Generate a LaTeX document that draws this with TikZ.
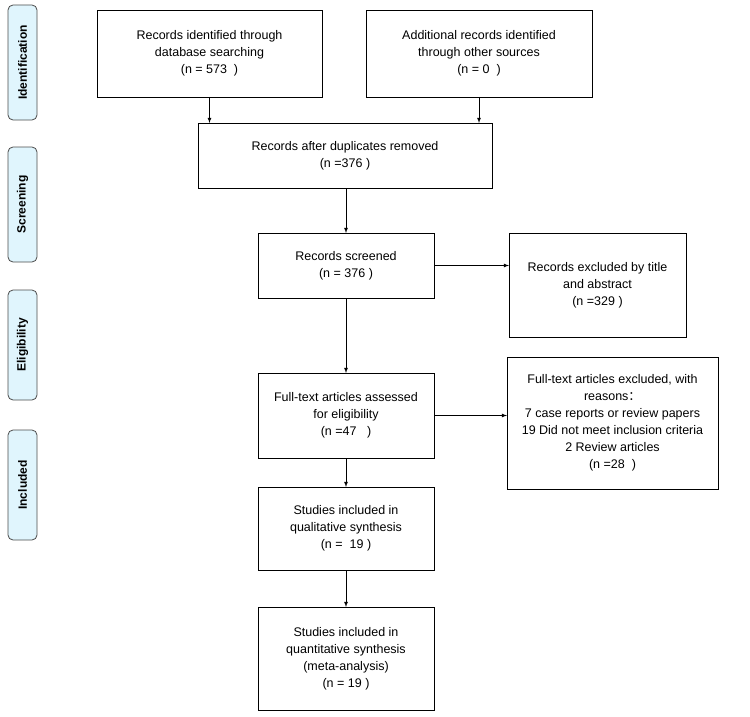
\documentclass[tikz,border=0pt]{standalone}
\usepackage{fontspec}
\setmainfont{Liberation Sans}
\newfontfamily\cjk{Noto Sans CJK SC}
\begin{document}
\begin{tikzpicture}[x=1pt,y=-1pt,
  box/.style={draw,thick,fill=white,align=center,font=\fontsize{12.5}{17}\selectfont,inner sep=2pt},
  side/.style={draw=black!70,fill=cyan!12,rounded corners=5pt,thick},
  sidet/.style={rotate=90,font=\bfseries\fontsize{12}{14}\selectfont},
  arr/.style={-latex,thick}]
\useasboundingbox (0,0) rectangle (750,717);
\foreach \n/\a/\b/\t in {s1/5/120/Identification,s2/147/262/Screening,s3/290/400/Eligibility,s4/430/540/Included}{
  \draw[side] (8,\a) rectangle (37,\b);
  \node[sidet] (\n) at (22.5,{(\a+\b)/2}) {\t};
}
\newcommand{\bx}[6]{\draw[thick] (#2,#3) rectangle (#4,#5);
  \node[box,draw=none,fill=none] (#1) at ({(#2+#4)/2},{(#3+#5)/2}) {#6};
  \coordinate (#1n) at ({(#2+#4)/2},#3); \coordinate (#1s) at ({(#2+#4)/2},#5);
  \coordinate (#1w) at (#2,{(#3+#5)/2}); \coordinate (#1e) at (#4,{(#3+#5)/2});}
\bx{a}{97}{10}{322}{97}{Records identified through\\database searching\\(n = 573 \ )}
\bx{b}{366}{10}{592}{97}{Additional records identified\\through other sources\\(n = 0 \ )}
\bx{c}{198}{123}{492}{188}{Records after duplicates removed\\(n =376 )}
\bx{d}{258}{233}{434}{298}{Records screened\\(n = 376 )}
\bx{e}{509}{233}{686}{337}{Records excluded by title\\and abstract\\(n =329 )}
\bx{f}{258}{373}{434}{458}{Full-text articles assessed\\for eligibility\\(n =47 \ \ )}
\bx{g}{507}{357}{718}{489}{Full-text articles excluded, with\\reasons{\cjk ：}\\7 case reports or review papers\\19 Did not meet inclusion criteria\\2 Review articles\\(n =28 \ )}
\bx{h}{258}{487}{434}{570}{Studies included in\\qualitative synthesis\\(n = \ 19 )}
\bx{i}{258}{607}{434}{710}{Studies included in\\quantitative synthesis\\(meta-analysis)\\(n = 19 )}
\draw[arr] (as) -- (as|-cn);
\draw[arr] (bs) -- (bs|-cn);
\draw[arr] (cs-|dn) -- (dn);
\draw[arr] (ds) -- (fn);
\draw[arr] (fs) -- (hn);
\draw[arr] (hs) -- (in);
\draw[arr] (de) -- (de-|ew);
\draw[arr] (fe) -- (fe-|gw);
\end{tikzpicture}
\end{document}
